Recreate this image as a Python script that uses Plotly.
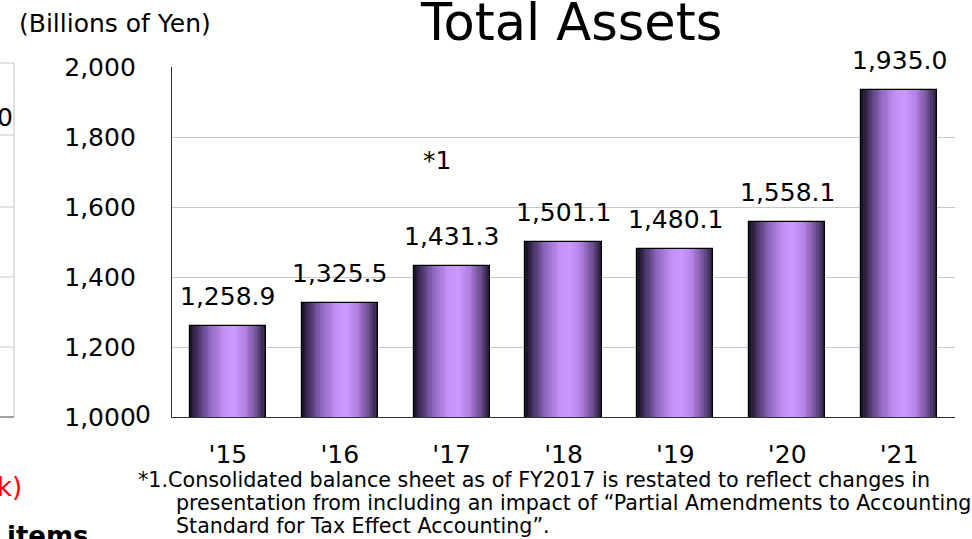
import plotly.graph_objects as go

# ---- data ----
years = ["'15", "'16", "'17", "'18", "'19", "'20", "'21"]
total_assets = [1258.9, 1325.5, 1431.3, 1501.1, 1480.1, 1558.1, 1935.0]
value_labels = ["1,258.9", "1,325.5", "1,431.3", "1,501.1", "1,480.1", "1,558.1", "1,935.0"]
y_ticks = [1000, 1200, 1400, 1600, 1800, 2000]
y_tick_text = ["1,000", "1,200", "1,400", "1,600", "1,800", "2,000"]

W, H = 972, 539
L, R, T, B = 172, 955, 67, 417
FONT = "DejaVu Sans, Verdana, sans-serif"

def px(x):
    return (x - L) / (R - L)

def py(y):
    return (B - y) / (B - T)

# horizontal gradient for the cylinder-like bars
stops = [
    (0.00, (22, 16, 32)),
    (0.10, (68, 50, 98)),
    (0.25, (138, 100, 188)),
    (0.45, (195, 145, 245)),
    (0.58, (204, 153, 255)),
    (0.72, (180, 130, 230)),
    (0.86, (115, 86, 155)),
    (1.00, (38, 28, 56)),
]

def grad(t):
    for (t0, c0), (t1, c1) in zip(stops[:-1], stops[1:]):
        if t0 <= t <= t1:
            f = (t - t0) / (t1 - t0)
            c = [round(a + (b - a) * f) for a, b in zip(c0, c1)]
            return "rgb(%d,%d,%d)" % tuple(c)
    return "rgb(%d,%d,%d)" % stops[-1][1]

fig = go.Figure()
BW = 0.68
N = 34
for i in range(N):
    off = -BW / 2 + i * BW / N
    fig.add_trace(go.Bar(
        x=years, y=total_assets, base=0,
        width=BW / 2 - off, offset=off,
        marker=dict(color=grad((i + 0.5) / N), line=dict(width=0)),
        hoverinfo="skip", showlegend=False,
    ))
# outline
fig.add_trace(go.Bar(
    x=years, y=total_assets, width=BW, offset=-BW / 2,
    marker=dict(color="rgba(0,0,0,0)", line=dict(color="#000000", width=1.2)),
    showlegend=False, hovertemplate="%{x}: %{y:,.1f}<extra></extra>",
))

annotations = []
for yr, v, lab in zip(years, total_assets, value_labels):
    annotations.append(dict(x=yr, y=v, xref="x", yref="y", text=lab, showarrow=False,
                            yanchor="bottom", yshift=13, font=dict(size=25, color="#000", family=FONT)))

def ann(text, x, y, size, xanchor="center", color="#000", bold=False):
    annotations.append(dict(x=px(x), y=py(y), xref="paper", yref="paper", text=("<b>%s</b>" % text) if bold else text,
                            showarrow=False, xanchor=xanchor, yanchor="middle",
                            font=dict(size=size, color=color, family=FONT)))

ann("Total Assets", 571, 22, 51)
ann("(Billions of Yen)", 115, 23, 25)
ann("*1", 437, 160, 25)
ann("0", 143, 414, 25)
ann("0", 15, 117, 25, xanchor="right")
ann("k)", 24, 487, 26, xanchor="right", color="#ff0000")
ann("items", 5, 536, 26, xanchor="left", bold=True)
ann("*1.Consolidated balance sheet as of FY2017 is restated to reflect changes in", 136, 480, 20.7, xanchor="left")
ann("presentation from including an impact of “Partial Amendments to Accounting", 174, 503, 20.6, xanchor="left")
ann("Standard for Tax Effect Accounting”.", 174, 526, 20.6, xanchor="left")

shapes = []
# partial neighbouring chart at the far left
for gy in [63, 135, 207, 277, 347]:
    shapes.append(dict(type="line", xref="paper", yref="paper", x0=px(0), x1=px(14), y0=py(gy), y1=py(gy),
                       line=dict(color="#d4d4d4", width=1.3)))
shapes.append(dict(type="line", xref="paper", yref="paper", x0=px(14), x1=px(14), y0=py(63), y1=py(417),
                   line=dict(color="#d4d4d4", width=1.5)))
shapes.append(dict(type="line", xref="paper", yref="paper", x0=px(0), x1=px(14), y0=py(417), y1=py(417),
                   line=dict(color="#808080", width=1.5)))

fig.update_layout(
    width=W, height=H,
    margin=dict(l=L, r=W - R, t=T, b=H - B, pad=0),
    paper_bgcolor="white", plot_bgcolor="white",
    barmode="overlay", bargap=0,
    showlegend=False,
    font=dict(family=FONT, color="#000"),
    annotations=annotations, shapes=shapes,
    xaxis=dict(
        type="category", range=[-0.5, 6.5], showgrid=False,
        showline=True, linecolor="#333333", linewidth=1.3,
        ticks="", tickfont=dict(size=25, family=FONT, color="#000"),
        ticklabelstandoff=15,
    ),
    yaxis=dict(
        range=[1000, 2000], tickvals=y_ticks, ticktext=y_tick_text,
        showgrid=True, gridcolor="#c8c8c8", gridwidth=1.3,
        showline=True, linecolor="#333333", linewidth=1.3,
        ticks="", tickfont=dict(size=25, family=FONT, color="#000"),
        ticklabelstandoff=30, zeroline=False,
    ),
)

fig.write_html(
    "out.html",
    config={"displayModeBar": False},
    post_script="document.body.style.margin='0';document.body.style.overflow='hidden';",
)
